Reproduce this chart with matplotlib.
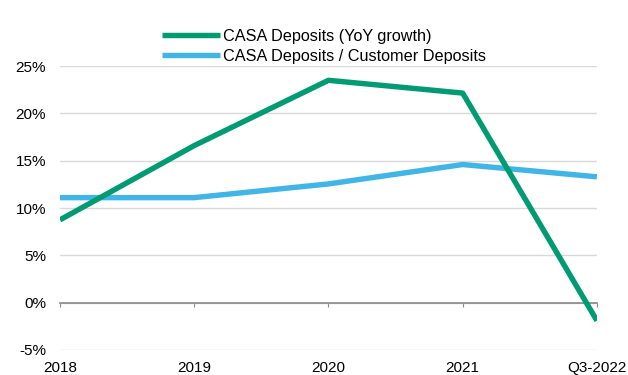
import matplotlib.pyplot as plt
from matplotlib.ticker import FuncFormatter, MultipleLocator

plt.rcParams['font.family'] = ['Liberation Sans', 'DejaVu Sans']

# CASA deposit metrics, in percent
periods = ["2018", "2019", "2020", "2021", "Q3-2022"]
casa_yoy_growth = [8.75, 16.6, 23.5, 22.15, -1.9]
casa_share = [11.1, 11.1, 12.55, 14.6, 13.3]

GREEN = "#009B72"
BLUE = "#41B6E6"

fig = plt.figure(figsize=(6.28, 3.75), dpi=100)
ax = fig.add_axes([0.0955, 0.0667, 0.855, 0.757])

x = range(len(periods))
ax.plot(x, casa_yoy_growth, color=GREEN, lw=3.9, solid_capstyle="butt",
        label="CASA Deposits (YoY growth)", zorder=3)
ax.plot(x, casa_share, color=BLUE, lw=3.9, solid_capstyle="butt",
        label="CASA Deposits / Customer Deposits", zorder=2)

ax.set_xlim(0, len(periods) - 1)
ax.set_ylim(-5, 25)
ax.yaxis.set_major_locator(MultipleLocator(5))
ax.yaxis.set_major_formatter(FuncFormatter(lambda v, _: f"{v:.0f}%"))
ax.grid(axis="y", color="#D9D9D9", lw=1)
ax.set_axisbelow(True)

for side in ("top", "right", "left"):
    ax.spines[side].set_visible(False)
ax.spines["bottom"].set_position(("data", 0))
ax.spines["bottom"].set_color("#898989")
ax.spines["bottom"].set_linewidth(1.2)

ax.set_xticks(list(x))
ax.set_xticklabels(periods)
ax.tick_params(axis="x", direction="out", length=3, color="#898989",
               pad=39, labelsize=11)
ax.tick_params(axis="y", length=0, pad=10, labelsize=11)

fig.legend(loc="upper center", bbox_to_anchor=(0.516, 0.945), frameon=False,
           fontsize=11.7, handlelength=3.6, handletextpad=0.2,
           labelspacing=0.3, borderpad=0)

fig.savefig("out.png", dpi=100)
